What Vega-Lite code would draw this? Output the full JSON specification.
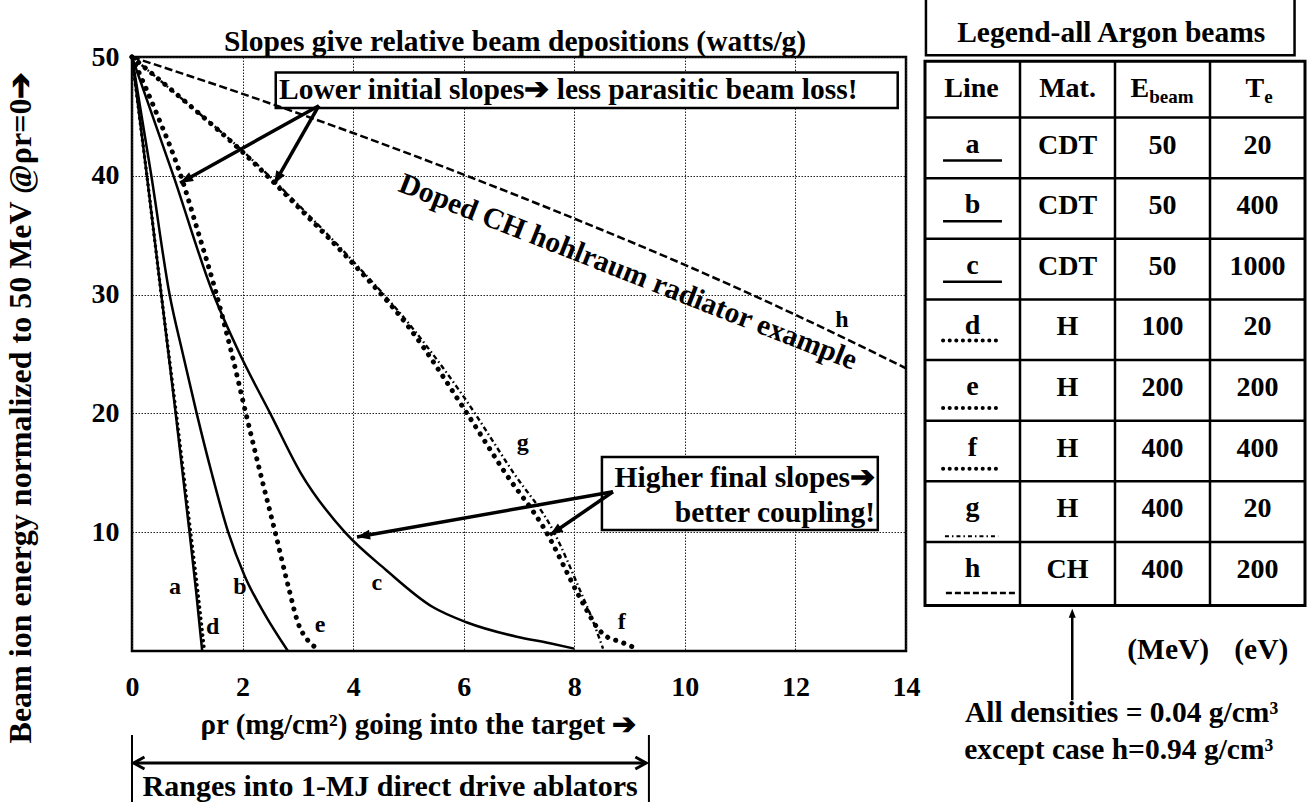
{
"$schema":"https://vega.github.io/schema/vega-lite/v6.json",
"autosize":{"type":"none"},
"width":774,"height":594,
"padding":{"left":132,"top":57,"right":401,"bottom":151},
"background":"white",
"config":{
 "view":{"stroke":"black","strokeWidth":2.5},
 "text":{"font":"Liberation Serif","fontWeight":"bold","color":"black"},
 "axis":{"labelFont":"Liberation Serif","labelFontWeight":"bold","labelColor":"black","labelFontSize":28,"titleFont":"Liberation Serif","titleFontWeight":"bold","titleColor":"black","titleFontSize":29,"ticks":false,"domain":false,"grid":true,"gridColor":"#222222","gridDash":[1.5,1.5],"gridWidth":1,"gridOpacity":1,"labelFlush":false,"labelOverlap":false}
},
"datasets":{
 "curves":[
  {"s":"a","x":0,"y":50},{"s":"a","x":0.27,"y":40},{"s":"a","x":0.53,"y":30},{"s":"a","x":0.79,"y":20},{"s":"a","x":1.04,"y":10},{"s":"a","x":1.16,"y":5},{"s":"a","x":1.27,"y":0},
  {"s":"b","x":0,"y":50},{"s":"b","x":0.35,"y":40},{"s":"b","x":0.68,"y":30},{"s":"b","x":0.92,"y":25},{"s":"b","x":1.17,"y":20},{"s":"b","x":1.44,"y":15},{"s":"b","x":1.74,"y":10},{"s":"b","x":2.04,"y":6.3},{"s":"b","x":2.4,"y":3.1},{"s":"b","x":2.82,"y":0},
  {"s":"c","x":0,"y":50},{"s":"c","x":0.75,"y":40},{"s":"c","x":1.45,"y":30.3},{"s":"c","x":1.95,"y":25},{"s":"c","x":2.5,"y":20},{"s":"c","x":3.05,"y":15},{"s":"c","x":3.85,"y":10},{"s":"c","x":4.6,"y":6.8},{"s":"c","x":5.44,"y":3.7},{"s":"c","x":6.06,"y":2.4},{"s":"c","x":6.96,"y":1.2},{"s":"c","x":7.56,"y":0.65},{"s":"c","x":8.0,"y":0.2},
  {"s":"d","x":0,"y":50},{"s":"d","x":0.27,"y":40},{"s":"d","x":0.53,"y":30},{"s":"d","x":0.8,"y":20},{"s":"d","x":1.06,"y":10},{"s":"d","x":1.19,"y":5},{"s":"d","x":1.31,"y":0},
  {"s":"e","x":0,"y":50},{"s":"e","x":0.45,"y":45.2},{"s":"e","x":0.87,"y":40.2},{"s":"e","x":1.2,"y":35.2},{"s":"e","x":1.5,"y":30.5},{"s":"e","x":1.79,"y":25.3},{"s":"e","x":2.06,"y":20},{"s":"e","x":2.32,"y":15},{"s":"e","x":2.59,"y":10},{"s":"e","x":2.84,"y":5.2},{"s":"e","x":3.0,"y":2.4},{"s":"e","x":3.18,"y":0.9},{"s":"e","x":3.36,"y":0.2},
  {"s":"f","x":0,"y":50},{"s":"f","x":1,"y":46.1},{"s":"f","x":2,"y":42.0},{"s":"f","x":3,"y":37.4},{"s":"f","x":4,"y":32.6},{"s":"f","x":5,"y":27.3},{"s":"f","x":6.06,"y":20},{"s":"f","x":6.75,"y":15},{"s":"f","x":7.47,"y":10.2},{"s":"f","x":8.1,"y":4.5},{"s":"f","x":8.23,"y":3.4},{"s":"f","x":8.41,"y":2.0},{"s":"f","x":8.59,"y":1.2},{"s":"f","x":8.82,"y":0.8},{"s":"f","x":9.13,"y":0.2},
  {"s":"g","x":0,"y":50},{"s":"g","x":1,"y":46.1},{"s":"g","x":2,"y":42.1},{"s":"g","x":3,"y":37.6},{"s":"g","x":4,"y":32.8},{"s":"g","x":5,"y":27.6},{"s":"g","x":6,"y":21.4},{"s":"g","x":6.9,"y":15},{"s":"g","x":7.61,"y":10.2},{"s":"g","x":8.16,"y":4.5},{"s":"g","x":8.28,"y":3.2},{"s":"g","x":8.52,"y":0.2},
  {"s":"h","x":0,"y":50},{"s":"h","x":2,"y":46.9},{"s":"h","x":4,"y":43.6},{"s":"h","x":6,"y":40.1},{"s":"h","x":8,"y":36.4},{"s":"h","x":10,"y":32.5},{"s":"h","x":12,"y":28.3},{"s":"h","x":14,"y":23.8}
 ],
 "labels":[
  {"s":"a","x":0.78,"y":5.4},{"s":"b","x":1.95,"y":5.4},{"s":"c","x":4.43,"y":5.7},{"s":"d","x":1.46,"y":2.0},
  {"s":"e","x":3.4,"y":2.2},{"s":"f","x":8.86,"y":2.4},{"s":"g","x":7.07,"y":17.5},{"s":"h","x":12.84,"y":27.9}
 ],
 "arrows":[
  {"id":"A1","x":3.38,"y":45.9,"x2":0.87,"y2":39.4},
  {"id":"A2","x":3.38,"y":45.9,"x2":2.57,"y2":39.3},
  {"id":"A3","x":8.7,"y":13.4,"x2":4.07,"y2":9.6},
  {"id":"A4","x":8.7,"y":13.4,"x2":7.56,"y2":9.76}
 ],
 "boxes":[
  {"x":2.6,"x2":13.85,"y":48.7,"y2":45.7},
  {"x":8.5,"x2":13.49,"y":16.33,"y2":10.19}
 ],
 "legend":[
  {"line":"a","mat":"CDT","ebeam":"50","te":"20","row":1},
  {"line":"b","mat":"CDT","ebeam":"50","te":"400","row":2},
  {"line":"c","mat":"CDT","ebeam":"50","te":"1000","row":3},
  {"line":"d","mat":"H","ebeam":"100","te":"20","row":4},
  {"line":"e","mat":"H","ebeam":"200","te":"200","row":5},
  {"line":"f","mat":"H","ebeam":"400","te":"400","row":6},
  {"line":"g","mat":"H","ebeam":"400","te":"20","row":7},
  {"line":"h","mat":"CH","ebeam":"400","te":"200","row":8}
 ]
},
"resolve":{"scale":{"x":"independent","y":"independent"}},
"layer":[
 {"layer":[
  {"data":{"name":"boxes"},"mark":{"type":"rect","fill":"white","stroke":"black","strokeWidth":2.5},
   "encoding":{"x":{"field":"x","type":"quantitative","scale":{"domain":[0,14],"nice":false,"zero":false},
     "axis":{"values":[0,2,4,6,8,10,12,14],"format":"d","labelPadding":36,"labelBaseline":"middle","labelAlign":"center","title":"ρr (mg/cm²) going into the target ➔","titleX":286,"titleY":73,"titleAlign":"center","titleBaseline":"middle","titleAngle":0}},
    "x2":{"field":"x2"},
    "y":{"field":"y","type":"quantitative","scale":{"domain":[0,50],"nice":false,"zero":false},
     "axis":{"values":[10,20,30,40,50],"format":"d","labelPadding":13,"labelBaseline":"middle","labelAlign":"right","title":"Beam ion energy normalized to 50 MeV @ρr=0➔","titleFontSize":32,"titleX":-112,"titleY":350,"titleAngle":270,"titleAlign":"center","titleBaseline":"middle"}},
    "y2":{"field":"y2"}}},
  {"data":{"name":"curves"},"transform":[{"filter":"datum.s=='a'||datum.s=='b'||datum.s=='c'"}],
   "mark":{"type":"line","color":"black","strokeWidth":2.5,"interpolate":"monotone"},
   "encoding":{"x":{"field":"x","type":"quantitative","scale":{"domain":[0,14],"nice":false,"zero":false}},"y":{"field":"y","type":"quantitative","scale":{"domain":[0,50],"nice":false,"zero":false}},"detail":{"field":"s"}}},
  {"data":{"name":"curves"},"transform":[{"filter":"datum.s=='d'"}],
   "mark":{"type":"line","color":"black","strokeWidth":3.5,"strokeDash":[0.1,5.5],"strokeCap":"round","interpolate":"monotone"},
   "encoding":{"x":{"field":"x","type":"quantitative","scale":{"domain":[0,14],"nice":false,"zero":false}},"y":{"field":"y","type":"quantitative","scale":{"domain":[0,50],"nice":false,"zero":false}},"detail":{"field":"s"}}},
  {"data":{"name":"curves"},"transform":[{"filter":"datum.s=='e'||datum.s=='f'"}],
   "mark":{"type":"line","color":"black","strokeWidth":5,"strokeDash":[0.1,8.5],"strokeCap":"round","interpolate":"monotone"},
   "encoding":{"x":{"field":"x","type":"quantitative","scale":{"domain":[0,14],"nice":false,"zero":false}},"y":{"field":"y","type":"quantitative","scale":{"domain":[0,50],"nice":false,"zero":false}},"detail":{"field":"s"}}},
  {"data":{"name":"curves"},"transform":[{"filter":"datum.s=='g'"}],
   "mark":{"type":"line","color":"black","strokeWidth":2.4,"strokeDash":[5,3,1.5,3],"interpolate":"monotone"},
   "encoding":{"x":{"field":"x","type":"quantitative","scale":{"domain":[0,14],"nice":false,"zero":false}},"y":{"field":"y","type":"quantitative","scale":{"domain":[0,50],"nice":false,"zero":false}},"detail":{"field":"s"}}},
  {"data":{"name":"curves"},"transform":[{"filter":"datum.s=='h'"}],
   "mark":{"type":"line","color":"black","strokeWidth":2.5,"strokeDash":[8,3.5],"interpolate":"monotone"},
   "encoding":{"x":{"field":"x","type":"quantitative","scale":{"domain":[0,14],"nice":false,"zero":false}},"y":{"field":"y","type":"quantitative","scale":{"domain":[0,50],"nice":false,"zero":false}},"detail":{"field":"s"}}},
  {"data":{"name":"arrows"},"mark":{"type":"rule","color":"black","strokeWidth":3.5},
   "encoding":{"x":{"field":"x","type":"quantitative","scale":{"domain":[0,14],"nice":false,"zero":false}},"y":{"field":"y","type":"quantitative","scale":{"domain":[0,50],"nice":false,"zero":false}},"x2":{"field":"x2"},"y2":{"field":"y2"}}},
  {"data":{"name":"arrows"},"transform":[{"filter":"datum.id=='A1'"}],"mark":{"type":"point","shape":"M0,0L-0.5,1.3L0.5,1.3Z","size":400,"filled":true,"opacity":1,"angle":241,"color":"black"},
   "encoding":{"x":{"field":"x2","type":"quantitative","scale":{"domain":[0,14],"nice":false,"zero":false}},"y":{"field":"y2","type":"quantitative","scale":{"domain":[0,50],"nice":false,"zero":false}}}},
  {"data":{"name":"arrows"},"transform":[{"filter":"datum.id=='A2'"}],"mark":{"type":"point","shape":"M0,0L-0.5,1.3L0.5,1.3Z","size":400,"filled":true,"opacity":1,"angle":210,"color":"black"},
   "encoding":{"x":{"field":"x2","type":"quantitative","scale":{"domain":[0,14],"nice":false,"zero":false}},"y":{"field":"y2","type":"quantitative","scale":{"domain":[0,50],"nice":false,"zero":false}}}},
  {"data":{"name":"arrows"},"transform":[{"filter":"datum.id=='A3'"}],"mark":{"type":"point","shape":"M0,0L-0.5,1.3L0.5,1.3Z","size":400,"filled":true,"opacity":1,"angle":260,"color":"black"},
   "encoding":{"x":{"field":"x2","type":"quantitative","scale":{"domain":[0,14],"nice":false,"zero":false}},"y":{"field":"y2","type":"quantitative","scale":{"domain":[0,50],"nice":false,"zero":false}}}},
  {"data":{"name":"arrows"},"transform":[{"filter":"datum.id=='A4'"}],"mark":{"type":"point","shape":"M0,0L-0.5,1.3L0.5,1.3Z","size":400,"filled":true,"opacity":1,"angle":235.6,"color":"black"},
   "encoding":{"x":{"field":"x2","type":"quantitative","scale":{"domain":[0,14],"nice":false,"zero":false}},"y":{"field":"y2","type":"quantitative","scale":{"domain":[0,50],"nice":false,"zero":false}}}},
  {"data":{"values":[{"x":0,"y":-7.07,"y2":-13},{"x":9.35,"y":-7.07,"y2":-13}]},"mark":{"type":"rule","color":"black","strokeWidth":2},
   "encoding":{"x":{"field":"x","type":"quantitative","scale":{"domain":[0,14],"nice":false,"zero":false}},"y":{"field":"y","type":"quantitative","scale":{"domain":[0,50],"nice":false,"zero":false}},"y2":{"field":"y2"}}},
  {"data":{"values":[{"x":0.03,"x2":9.3,"y":-9.43}]},"mark":{"type":"rule","color":"black","strokeWidth":3},
   "encoding":{"x":{"field":"x","type":"quantitative","scale":{"domain":[0,14],"nice":false,"zero":false}},"x2":{"field":"x2"},"y":{"field":"y","type":"quantitative","scale":{"domain":[0,50],"nice":false,"zero":false}}}},
  {"data":{"values":[{"x":0.03,"y":-9.43}]},"mark":{"type":"point","shape":"M-1,1.8L0,0L1,1.8","size":144,"filled":false,"opacity":1,"strokeWidth":3,"angle":270,"color":"black"},
   "encoding":{"x":{"field":"x","type":"quantitative","scale":{"domain":[0,14],"nice":false,"zero":false}},"y":{"field":"y","type":"quantitative","scale":{"domain":[0,50],"nice":false,"zero":false}}}},
  {"data":{"values":[{"x":9.3,"y":-9.43}]},"mark":{"type":"point","shape":"M-1,1.8L0,0L1,1.8","size":144,"filled":false,"opacity":1,"strokeWidth":3,"angle":90,"color":"black"},
   "encoding":{"x":{"field":"x","type":"quantitative","scale":{"domain":[0,14],"nice":false,"zero":false}},"y":{"field":"y","type":"quantitative","scale":{"domain":[0,50],"nice":false,"zero":false}}}},
  {"data":{"name":"labels"},"mark":{"type":"text","fontSize":24,"baseline":"middle","align":"center"},
   "encoding":{"x":{"field":"x","type":"quantitative","scale":{"domain":[0,14],"nice":false,"zero":false}},"y":{"field":"y","type":"quantitative","scale":{"domain":[0,50],"nice":false,"zero":false}},"text":{"field":"s"}}},
  {"data":{"values":[{}]},"mark":{"type":"text","fontSize":29.5,"baseline":"middle","align":"center"},
   "encoding":{"x":{"datum":6.93,"type":"quantitative","scale":{"domain":[0,14],"nice":false,"zero":false}},"y":{"datum":51.3,"type":"quantitative","scale":{"domain":[0,50],"nice":false,"zero":false}},"text":{"value":"Slopes give relative beam depositions (watts/g)"}}},
  {"data":{"values":[{}]},"mark":{"type":"text","fontSize":29.5,"baseline":"middle","align":"left"},
   "encoding":{"x":{"datum":2.66,"type":"quantitative","scale":{"domain":[0,14],"nice":false,"zero":false}},"y":{"datum":47.2,"type":"quantitative","scale":{"domain":[0,50],"nice":false,"zero":false}},"text":{"value":"Lower initial slopes➔ less parasitic beam loss!"}}},
  {"data":{"values":[{}]},"mark":{"type":"text","fontSize":29.5,"baseline":"middle","align":"right"},
   "encoding":{"x":{"datum":13.44,"type":"quantitative","scale":{"domain":[0,14],"nice":false,"zero":false}},"y":{"datum":14.56,"type":"quantitative","scale":{"domain":[0,50],"nice":false,"zero":false}},"text":{"value":"Higher final slopes➔"}}},
  {"data":{"values":[{}]},"mark":{"type":"text","fontSize":29.5,"baseline":"middle","align":"right"},
   "encoding":{"x":{"datum":13.44,"type":"quantitative","scale":{"domain":[0,14],"nice":false,"zero":false}},"y":{"datum":11.6,"type":"quantitative","scale":{"domain":[0,50],"nice":false,"zero":false}},"text":{"value":"better coupling!"}}},
  {"data":{"values":[{}]},"mark":{"type":"text","fontSize":29.5,"baseline":"middle","align":"center","angle":21.5},
   "encoding":{"x":{"datum":8.97,"type":"quantitative","scale":{"domain":[0,14],"nice":false,"zero":false}},"y":{"datum":31.9,"type":"quantitative","scale":{"domain":[0,50],"nice":false,"zero":false}},"text":{"value":"Doped CH hohlraum radiator example"}}},
  {"data":{"values":[{}]},"mark":{"type":"text","fontSize":30,"baseline":"middle","align":"center"},
   "encoding":{"x":{"datum":4.67,"type":"quantitative","scale":{"domain":[0,14],"nice":false,"zero":false}},"y":{"datum":-11.45,"type":"quantitative","scale":{"domain":[0,50],"nice":false,"zero":false}},"text":{"value":"Ranges into 1-MJ direct drive ablators"}}}
 ]},
 {"layer":[
  {"data":{"values":[{}]},"mark":{"type":"rect","filled":false,"stroke":"black","strokeWidth":3},
   "encoding":{"x":{"datum":0,"type":"quantitative","scale":{"domain":[0,4],"range":[793,1173],"nice":false,"zero":false},"axis":null},"x2":{"datum":4},"y":{"datum":0.07,"type":"quantitative","scale":{"domain":[0,12.29],"range":[0,745],"nice":false,"zero":false},"axis":null},"y2":{"datum":9.05}}},
  {"data":{"values":[{}]},"mark":{"type":"rect","filled":false,"stroke":"black","strokeWidth":2.5},
   "encoding":{"x":{"datum":0.01,"type":"quantitative","scale":{"domain":[0,4],"range":[793,1173],"nice":false,"zero":false},"axis":null},"x2":{"datum":3.89},"y":{"datum":-1.5,"type":"quantitative","scale":{"domain":[0,12.29],"range":[0,745],"nice":false,"zero":false},"axis":null},"y2":{"datum":-0.03}}},
  {"data":{"values":[{}]},"mark":{"type":"rule","color":"black","strokeWidth":2.5},
   "encoding":{"x":{"datum":1,"type":"quantitative","scale":{"domain":[0,4],"range":[793,1173],"nice":false,"zero":false},"axis":null},"y":{"datum":0.07,"type":"quantitative","scale":{"domain":[0,12.29],"range":[0,745],"nice":false,"zero":false},"axis":null},"y2":{"datum":9.05}}},
  {"data":{"values":[{}]},"mark":{"type":"rule","color":"black","strokeWidth":2.5},
   "encoding":{"x":{"datum":2,"type":"quantitative","scale":{"domain":[0,4],"range":[793,1173],"nice":false,"zero":false},"axis":null},"y":{"datum":0.07,"type":"quantitative","scale":{"domain":[0,12.29],"range":[0,745],"nice":false,"zero":false},"axis":null},"y2":{"datum":9.05}}},
  {"data":{"values":[{}]},"mark":{"type":"rule","color":"black","strokeWidth":2.5},
   "encoding":{"x":{"datum":3,"type":"quantitative","scale":{"domain":[0,4],"range":[793,1173],"nice":false,"zero":false},"axis":null},"y":{"datum":0.07,"type":"quantitative","scale":{"domain":[0,12.29],"range":[0,745],"nice":false,"zero":false},"axis":null},"y2":{"datum":9.05}}},
  {"data":{"name":"legend"},"mark":{"type":"rule","color":"black","strokeWidth":2.5},
   "encoding":{"x":{"datum":0,"type":"quantitative","scale":{"domain":[0,4],"range":[793,1173],"nice":false,"zero":false},"axis":null},"x2":{"datum":4},"y":{"field":"row","type":"quantitative","scale":{"domain":[0,12.29],"range":[0,745],"nice":false,"zero":false},"axis":null}}},
  {"data":{"values":[{}]},"mark":{"type":"text","fontSize":29.5,"baseline":"middle","align":"center"},
   "encoding":{"x":{"datum":1.96,"type":"quantitative","scale":{"domain":[0,4],"range":[793,1173],"nice":false,"zero":false},"axis":null},"y":{"datum":-0.4,"type":"quantitative","scale":{"domain":[0,12.29],"range":[0,745],"nice":false,"zero":false},"axis":null},"text":{"value":"Legend-all Argon beams"}}},
  {"data":{"values":[{}]},"mark":{"type":"text","fontSize":28,"baseline":"middle","align":"center"},
   "encoding":{"x":{"datum":0.49,"type":"quantitative","scale":{"domain":[0,4],"range":[793,1173],"nice":false,"zero":false},"axis":null},"y":{"datum":0.53,"type":"quantitative","scale":{"domain":[0,12.29],"range":[0,745],"nice":false,"zero":false},"axis":null},"text":{"value":"Line"}}},
  {"data":{"values":[{}]},"mark":{"type":"text","fontSize":28,"baseline":"middle","align":"center"},
   "encoding":{"x":{"datum":1.5,"type":"quantitative","scale":{"domain":[0,4],"range":[793,1173],"nice":false,"zero":false},"axis":null},"y":{"datum":0.53,"type":"quantitative","scale":{"domain":[0,12.29],"range":[0,745],"nice":false,"zero":false},"axis":null},"text":{"value":"Mat."}}},
  {"data":{"values":[{}]},"mark":{"type":"text","fontSize":28,"baseline":"middle","align":"right"},
   "encoding":{"x":{"datum":2.36,"type":"quantitative","scale":{"domain":[0,4],"range":[793,1173],"nice":false,"zero":false},"axis":null},"y":{"datum":0.53,"type":"quantitative","scale":{"domain":[0,12.29],"range":[0,745],"nice":false,"zero":false},"axis":null},"text":{"value":"E"}}},
  {"data":{"values":[{}]},"mark":{"type":"text","fontSize":19,"baseline":"middle","align":"left","dy":8},
   "encoding":{"x":{"datum":2.36,"type":"quantitative","scale":{"domain":[0,4],"range":[793,1173],"nice":false,"zero":false},"axis":null},"y":{"datum":0.53,"type":"quantitative","scale":{"domain":[0,12.29],"range":[0,745],"nice":false,"zero":false},"axis":null},"text":{"value":"beam"}}},
  {"data":{"values":[{}]},"mark":{"type":"text","fontSize":28,"baseline":"middle","align":"right"},
   "encoding":{"x":{"datum":3.57,"type":"quantitative","scale":{"domain":[0,4],"range":[793,1173],"nice":false,"zero":false},"axis":null},"y":{"datum":0.53,"type":"quantitative","scale":{"domain":[0,12.29],"range":[0,745],"nice":false,"zero":false},"axis":null},"text":{"value":"T"}}},
  {"data":{"values":[{}]},"mark":{"type":"text","fontSize":19,"baseline":"middle","align":"left","dy":8},
   "encoding":{"x":{"datum":3.57,"type":"quantitative","scale":{"domain":[0,4],"range":[793,1173],"nice":false,"zero":false},"axis":null},"y":{"datum":0.53,"type":"quantitative","scale":{"domain":[0,12.29],"range":[0,745],"nice":false,"zero":false},"axis":null},"text":{"value":"e"}}},
  {"data":{"name":"legend"},"mark":{"type":"text","fontSize":28,"baseline":"middle","align":"center","dy":27},
   "encoding":{"x":{"datum":0.5,"type":"quantitative","scale":{"domain":[0,4],"range":[793,1173],"nice":false,"zero":false},"axis":null},"y":{"field":"row","type":"quantitative","scale":{"domain":[0,12.29],"range":[0,745],"nice":false,"zero":false},"axis":null},"text":{"field":"line"}}},
  {"data":{"name":"legend"},"mark":{"type":"text","fontSize":28,"baseline":"middle","align":"center","dy":28},
   "encoding":{"x":{"datum":1.5,"type":"quantitative","scale":{"domain":[0,4],"range":[793,1173],"nice":false,"zero":false},"axis":null},"y":{"field":"row","type":"quantitative","scale":{"domain":[0,12.29],"range":[0,745],"nice":false,"zero":false},"axis":null},"text":{"field":"mat"}}},
  {"data":{"name":"legend"},"mark":{"type":"text","fontSize":28,"baseline":"middle","align":"center","dy":28},
   "encoding":{"x":{"datum":2.5,"type":"quantitative","scale":{"domain":[0,4],"range":[793,1173],"nice":false,"zero":false},"axis":null},"y":{"field":"row","type":"quantitative","scale":{"domain":[0,12.29],"range":[0,745],"nice":false,"zero":false},"axis":null},"text":{"field":"ebeam"}}},
  {"data":{"name":"legend"},"mark":{"type":"text","fontSize":28,"baseline":"middle","align":"center","dy":28},
   "encoding":{"x":{"datum":3.5,"type":"quantitative","scale":{"domain":[0,4],"range":[793,1173],"nice":false,"zero":false},"axis":null},"y":{"field":"row","type":"quantitative","scale":{"domain":[0,12.29],"range":[0,745],"nice":false,"zero":false},"axis":null},"text":{"field":"te"}}},
  {"data":{"name":"legend"},"transform":[{"filter":"datum.line=='a'||datum.line=='b'||datum.line=='c'"}],"mark":{"type":"rule","color":"black","strokeWidth":2.5,"yOffset":43},
   "encoding":{"x":{"datum":0.19,"type":"quantitative","scale":{"domain":[0,4],"range":[793,1173],"nice":false,"zero":false},"axis":null},"x2":{"datum":0.81},"y":{"field":"row","type":"quantitative","scale":{"domain":[0,12.29],"range":[0,745],"nice":false,"zero":false},"axis":null}}},
  {"data":{"name":"legend"},"transform":[{"filter":"datum.line=='d'"}],"mark":{"type":"rule","color":"black","strokeWidth":4,"strokeDash":[0.1,6.5],"strokeCap":"round","yOffset":41},
   "encoding":{"x":{"datum":0.19,"type":"quantitative","scale":{"domain":[0,4],"range":[793,1173],"nice":false,"zero":false},"axis":null},"x2":{"datum":0.81},"y":{"field":"row","type":"quantitative","scale":{"domain":[0,12.29],"range":[0,745],"nice":false,"zero":false},"axis":null}}},
  {"data":{"name":"legend"},"transform":[{"filter":"datum.line=='e'||datum.line=='f'"}],"mark":{"type":"rule","color":"black","strokeWidth":4,"strokeDash":[0.1,6.5],"strokeCap":"round","yOffset":48},
   "encoding":{"x":{"datum":0.19,"type":"quantitative","scale":{"domain":[0,4],"range":[793,1173],"nice":false,"zero":false},"axis":null},"x2":{"datum":0.81},"y":{"field":"row","type":"quantitative","scale":{"domain":[0,12.29],"range":[0,745],"nice":false,"zero":false},"axis":null}}},
  {"data":{"name":"legend"},"transform":[{"filter":"datum.line=='g'"}],"mark":{"type":"rule","color":"black","strokeWidth":2,"strokeDash":[4,3,1.5,3],"yOffset":55},
   "encoding":{"x":{"datum":0.21,"type":"quantitative","scale":{"domain":[0,4],"range":[793,1173],"nice":false,"zero":false},"axis":null},"x2":{"datum":0.77},"y":{"field":"row","type":"quantitative","scale":{"domain":[0,12.29],"range":[0,745],"nice":false,"zero":false},"axis":null}}},
  {"data":{"name":"legend"},"transform":[{"filter":"datum.line=='h'"}],"mark":{"type":"rule","color":"black","strokeWidth":2.5,"strokeDash":[6,3],"yOffset":51},
   "encoding":{"x":{"datum":0.22,"type":"quantitative","scale":{"domain":[0,4],"range":[793,1173],"nice":false,"zero":false},"axis":null},"x2":{"datum":0.97},"y":{"field":"row","type":"quantitative","scale":{"domain":[0,12.29],"range":[0,745],"nice":false,"zero":false},"axis":null}}},
  {"data":{"values":[{}]},"mark":{"type":"text","fontSize":29.5,"baseline":"middle","align":"center"},
   "encoding":{"x":{"datum":2.56,"type":"quantitative","scale":{"domain":[0,4],"range":[793,1173],"nice":false,"zero":false},"axis":null},"y":{"datum":9.79,"type":"quantitative","scale":{"domain":[0,12.29],"range":[0,745],"nice":false,"zero":false},"axis":null},"text":{"value":"(MeV)"}}},
  {"data":{"values":[{}]},"mark":{"type":"text","fontSize":29.5,"baseline":"middle","align":"center"},
   "encoding":{"x":{"datum":3.54,"type":"quantitative","scale":{"domain":[0,4],"range":[793,1173],"nice":false,"zero":false},"axis":null},"y":{"datum":9.79,"type":"quantitative","scale":{"domain":[0,12.29],"range":[0,745],"nice":false,"zero":false},"axis":null},"text":{"value":"(eV)"}}},
  {"data":{"values":[{}]},"mark":{"type":"text","fontSize":29.5,"baseline":"middle","align":"center"},
   "encoding":{"x":{"datum":2.07,"type":"quantitative","scale":{"domain":[0,4],"range":[793,1173],"nice":false,"zero":false},"axis":null},"y":{"datum":10.83,"type":"quantitative","scale":{"domain":[0,12.29],"range":[0,745],"nice":false,"zero":false},"axis":null},"text":{"value":"All densities = 0.04 g/cm³"}}},
  {"data":{"values":[{}]},"mark":{"type":"text","fontSize":29.5,"baseline":"middle","align":"center"},
   "encoding":{"x":{"datum":2.04,"type":"quantitative","scale":{"domain":[0,4],"range":[793,1173],"nice":false,"zero":false},"axis":null},"y":{"datum":11.44,"type":"quantitative","scale":{"domain":[0,12.29],"range":[0,745],"nice":false,"zero":false},"axis":null},"text":{"value":"except case h=0.94 g/cm³"}}},
  {"data":{"values":[{}]},"mark":{"type":"rule","color":"black","strokeWidth":2.5},
   "encoding":{"x":{"datum":1.55,"type":"quantitative","scale":{"domain":[0,4],"range":[793,1173],"nice":false,"zero":false},"axis":null},"y":{"datum":9.2,"type":"quantitative","scale":{"domain":[0,12.29],"range":[0,745],"nice":false,"zero":false},"axis":null},"y2":{"datum":10.61}}},
  {"data":{"values":[{}]},"mark":{"type":"point","shape":"M0,0L-0.5,1.3L0.5,1.3Z","size":200,"filled":true,"opacity":1,"angle":0,"color":"black"},
   "encoding":{"x":{"datum":1.55,"type":"quantitative","scale":{"domain":[0,4],"range":[793,1173],"nice":false,"zero":false},"axis":null},"y":{"datum":9.1,"type":"quantitative","scale":{"domain":[0,12.29],"range":[0,745],"nice":false,"zero":false},"axis":null}}}
 ]}
]
}
